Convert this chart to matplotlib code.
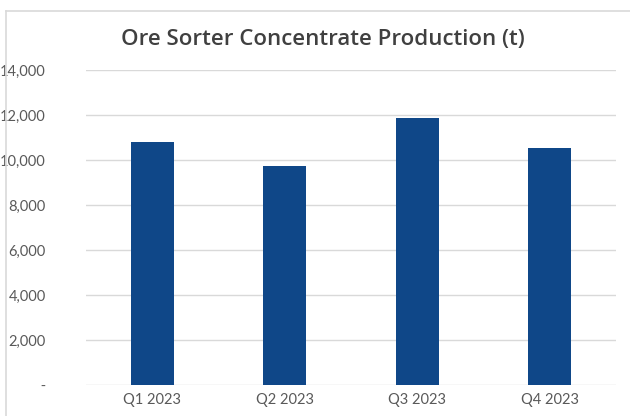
import matplotlib
matplotlib.use("Agg")
import matplotlib.pyplot as plt
from matplotlib.lines import Line2D
from matplotlib.ticker import FuncFormatter

categories = ["Q1 2023", "Q2 2023", "Q3 2023", "Q4 2023"]
values = [10810, 9730, 11850, 10530]
yticks = [0, 2000, 4000, 6000, 8000, 10000, 12000, 14000]

plt.rcParams['font.family'] = ['Lato', 'DejaVu Sans']

fig = plt.figure(figsize=(6.3, 4.16), dpi=100)
ax = fig.add_axes([86/630, 1-385/416, 530/630, 315/416])

x = range(len(categories))
ax.bar(x, values, width=0.325, color="#0F4788", zorder=3)
ax.set_xlim(-0.5, len(categories)-0.5)
ax.set_ylim(0, 14000)
ax.set_yticks(yticks)
ax.yaxis.set_major_formatter(FuncFormatter(lambda v, p: " -" if v == 0 else f"{int(v):,}"))
ax.set_xticks(list(x))
ax.set_xticklabels(categories)
ax.grid(axis='y', color="#D9D9D9", linewidth=1.0, zorder=0)
for s in ax.spines.values():
    s.set_visible(False)
ax.tick_params(axis='both', length=0, labelsize=10.5, colors="#595959")
ax.tick_params(axis='y', pad=29)
ax.tick_params(axis='x', pad=6)

fig.text(323/630, 1-40/416, "Ore Sorter Concentrate Production (t)", ha='center', va='center',
         fontsize=16, fontweight='semibold', color="#404040", family=['Open Sans', 'DejaVu Sans'])

fig.add_artist(Line2D([6/630, 6/630], [0, 1-11/416], transform=fig.transFigure, color="#D9D9D9", linewidth=1.2))
fig.add_artist(Line2D([6/630, 1], [1-11/416, 1-11/416], transform=fig.transFigure, color="#D9D9D9", linewidth=1.2))

fig.savefig("out.png", dpi=100)
